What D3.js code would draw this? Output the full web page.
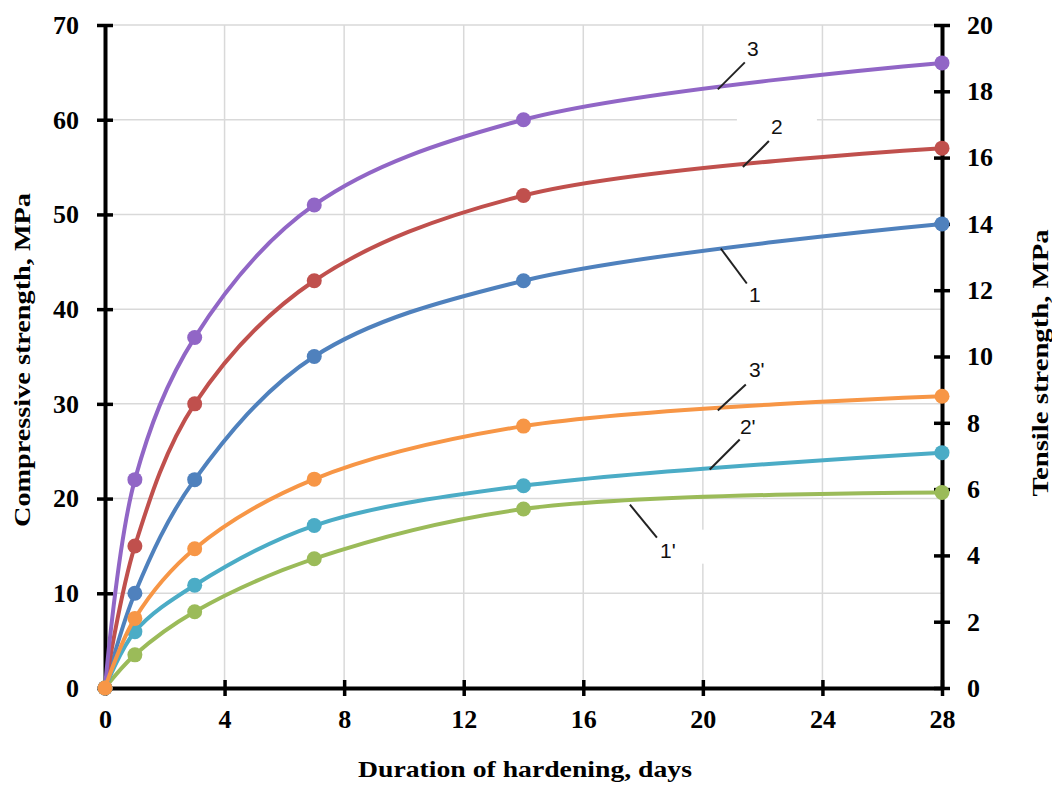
<!DOCTYPE html>
<html>
<head>
<meta charset="utf-8">
<script src="https://cdn.jsdelivr.net/npm/d3@7"></script>
<style>
  body { margin: 0; background: #fff; }
  svg { display: block; }
</style>
</head>
<body>
<div id="chart"></div>
<script>
// data
var days = [0, 1, 3, 7, 14, 28];
var dayTicks = [0, 4, 8, 12, 16, 20, 24, 28];
var leftTicks = [0, 10, 20, 30, 40, 50, 60, 70];
var rightTicks = [0, 2, 4, 6, 8, 10, 12, 14, 16, 18, 20];

// compressive strength, MPa (left axis)
var comp1 = [0, 10, 22, 35, 43, 49];
var comp2 = [0, 15, 30, 43, 52, 57];
var comp3 = [0, 22, 37, 51, 60, 66];
// tensile strength, MPa (right axis)
var tens1 = [0, 1.0, 2.3, 3.9, 5.4, 5.9];
var tens2 = [0, 1.7, 3.1, 4.9, 6.1, 7.1];
var tens3 = [0, 2.1, 4.2, 6.3, 7.9, 8.8];

var seriesNames = ["1", "2", "3", "1'", "2'", "3'"];
var seriesColors = ["#4f81bd", "#c0504d", "#9166c6", "#9bbb59", "#4bacc6", "#f79646"];

var W = 1052, H = 787;
var margin = {top: 25, right: 110, bottom: 99, left: 105};

var svg = d3.select("#chart").append("svg")
    .attr("width", W)
    .attr("height", H);

var x = d3.scaleLinear().domain([0, 28]).range([margin.left, W - margin.right]);
var yL = d3.scaleLinear().domain([0, 70]).range([H - margin.bottom, margin.top]);
var yR = d3.scaleLinear().domain([0, 20]).range([H - margin.bottom, margin.top]);

var series = [
  {name: seriesNames[0], values: comp1, y: yL, color: seriesColors[0]},
  {name: seriesNames[1], values: comp2, y: yL, color: seriesColors[1]},
  {name: seriesNames[2], values: comp3, y: yL, color: seriesColors[2]},
  {name: seriesNames[3], values: tens1, y: yR, color: seriesColors[3]},
  {name: seriesNames[4], values: tens2, y: yR, color: seriesColors[4]},
  {name: seriesNames[5], values: tens3, y: yR, color: seriesColors[5]}
];

// label anchors on the curves (day, value on own axis) + pixel offsets
var labels = [
  {name: "3",  day: 20.5,  val: 63.2, y: yL, ex: 27, ey: -27, tx: 35, ty: -33},
  {name: "2",  day: 21.34, val: 55.0, y: yL, ex: 26, ey: -26, tx: 34, ty: -33},
  {name: "1",  day: 20.6,  val: 46.4, y: yL, ex: 26, ey: 35,  tx: 34, ty: 53},
  {name: "3'", day: 20.5,  val: 8.37, y: yR, ex: 28, ey: -26, tx: 39, ty: -34},
  {name: "2'", day: 20.23, val: 6.59, y: yR, ex: 30, ey: -30, tx: 38, ty: -36},
  {name: "1'", day: 17.56, val: 5.53, y: yR, ex: 27, ey: 33,  tx: 38, ty: 53}
];

////////// grid //////////
var grid = svg.append("g").attr("class", "grid")
    .attr("stroke", "#d9d9d9")
    .attr("stroke-width", 1.5);

grid.selectAll(".vg")
    .data(dayTicks.filter(function(d) { return d > 0 && d < 28; }))
    .join("line")
    .attr("x1", function(d) { return x(d); })
    .attr("x2", function(d) { return x(d); })
    .attr("y1", yL(0))
    .attr("y2", yL(70));

grid.selectAll(".hg")
    .data(leftTicks.filter(function(d) { return d > 0; }))
    .join("line")
    .attr("x1", x(0))
    .attr("x2", x(28))
    .attr("y1", function(d) { return yL(d); })
    .attr("y2", function(d) { return yL(d); });

// white boxes behind curve labels
svg.append("g").selectAll("rect")
    .data(labels)
    .join("rect")
    .attr("x", function(d) { return x(d.day) + d.tx - 40; })
    .attr("y", function(d) { return d.y(d.val) + d.ty - 28; })
    .attr("width", 80)
    .attr("height", 34)
    .attr("fill", "#fff");

////////// axes //////////
function styleAxis(g) {
  g.select(".domain").attr("stroke", "#000").attr("stroke-width", 4);
  g.selectAll(".tick line").attr("stroke", "#000").attr("stroke-width", 3.5);
  g.selectAll(".tick text")
    .attr("fill", "#000")
    .style("font-family", "'Liberation Serif', 'Times New Roman', serif")
    .style("font-weight", "bold")
    .style("font-size", "26px");
}

var xAxis = svg.append("g")
    .attr("transform", "translate(0," + yL(0) + ")")
    .call(d3.axisBottom(x).tickValues(dayTicks).tickSizeInner(8).tickSizeOuter(0).tickPadding(14))
    .call(styleAxis);
xAxis.selectAll(".tick line").attr("y1", -8);

var leftAxis = svg.append("g")
    .attr("transform", "translate(" + x(0) + ",0)")
    .call(d3.axisLeft(yL).tickValues(leftTicks).tickSizeInner(8).tickSizeOuter(0).tickPadding(18))
    .call(styleAxis);
leftAxis.selectAll(".tick line").attr("x1", 8);

var rightAxis = svg.append("g")
    .attr("transform", "translate(" + x(28) + ",0)")
    .call(d3.axisRight(yR).tickValues(rightTicks).tickSizeInner(8).tickSizeOuter(0).tickPadding(17))
    .call(styleAxis);
rightAxis.selectAll(".tick line").attr("x1", -8);

////////// curves //////////
var plot = svg.append("g").attr("class", "plot");

series.forEach(function(s) {
  var line = d3.line()
      .x(function(d, i) { return x(days[i]); })
      .y(function(d) { return s.y(d); })
      .curve(d3.curveCatmullRom.alpha(0.5));

  var g = plot.append("g").attr("class", "series");
  g.append("path")
    .datum(s.values)
    .attr("d", line)
    .attr("fill", "none")
    .attr("stroke", s.color)
    .attr("stroke-width", 4);

  g.selectAll("circle")
    .data(s.values)
    .join("circle")
    .attr("cx", function(d, i) { return x(days[i]); })
    .attr("cy", function(d) { return s.y(d); })
    .attr("r", 7.5)
    .attr("fill", s.color);
});

////////// curve labels //////////
var lab = svg.append("g").attr("class", "labels");

lab.selectAll("line")
    .data(labels)
    .join("line")
    .attr("x1", function(d) { return x(d.day); })
    .attr("y1", function(d) { return d.y(d.val); })
    .attr("x2", function(d) { return x(d.day) + d.ex; })
    .attr("y2", function(d) { return d.y(d.val) + d.ey; })
    .attr("stroke", "#222")
    .attr("stroke-width", 2);

lab.selectAll("text")
    .data(labels)
    .join("text")
    .attr("x", function(d) { return x(d.day) + d.tx; })
    .attr("y", function(d) { return d.y(d.val) + d.ty; })
    .attr("text-anchor", "middle")
    .style("font-family", "'Liberation Sans', Arial, sans-serif")
    .style("font-size", "21px")
    .attr("fill", "#111")
    .text(function(d) { return d.name; });

////////// axis titles //////////
function title(txt, len) {
  return svg.append("text")
    .attr("text-anchor", "middle")
    .attr("textLength", len)
    .attr("lengthAdjust", "spacingAndGlyphs")
    .style("font-family", "'Liberation Serif', 'Times New Roman', serif")
    .style("font-weight", "bold")
    .style("font-size", "23px")
    .attr("fill", "#000")
    .text(txt);
}

title("Duration of hardening, days", 334)
    .attr("x", 525)
    .attr("y", 781 - 4);

title("Compressive strength, MPa", 334)
    .attr("transform", "translate(30,360) rotate(-90)");

title("Tensile strength, MPa", 267)
    .attr("transform", "translate(1048,363) rotate(-90)");
</script>
</body>
</html>
